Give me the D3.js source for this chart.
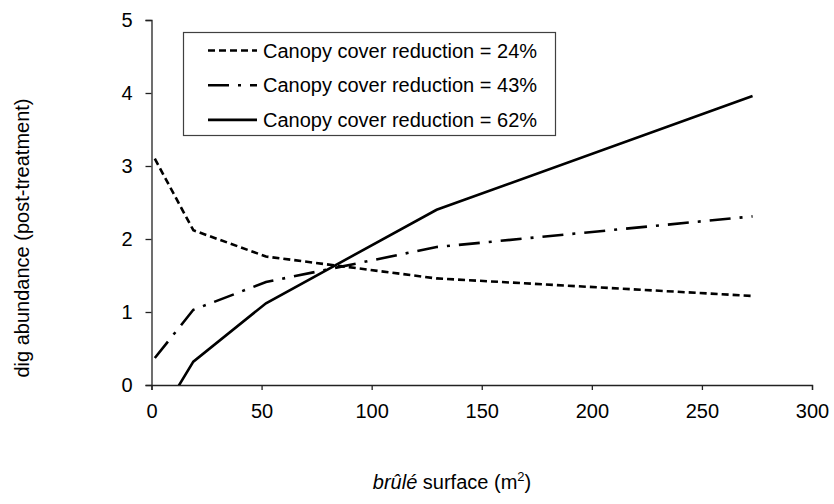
<!DOCTYPE html>
<html>
<head>
<meta charset="utf-8">
<script src="https://cdn.jsdelivr.net/npm/d3@7"></script>
<style>
  body { margin: 0; background: #fff; }
  text { font-family: "Liberation Sans", Arial, sans-serif; fill: #000; }
</style>
</head>
<body>
<svg id="chart" width="834" height="504"></svg>
<script>
const width = 834;
const height = 504;

// brûlé surface (m²) at which each curve is drawn
const surface = [1.5, 19, 52, 129.5, 273];

// dig abundance for each canopy cover reduction
const cover24 = [3.10, 2.12, 1.76, 1.46, 1.22];
const cover43 = [0.37, 1.03, 1.41, 1.89, 2.31];
const cover62 = [-0.55, 0.32, 1.12, 2.40, 3.96];

const seriesNames = [
    "Canopy cover reduction = 24%",
    "Canopy cover reduction = 43%",
    "Canopy cover reduction = 62%"
];

const xTicks = [0, 50, 100, 150, 200, 250, 300];
const yTicks = [0, 1, 2, 3, 4, 5];

const margin = { left: 151.5, right: 22, top: 20, bottom: 119 };

const x = d3.scaleLinear().domain([0, 300]).range([margin.left, width - margin.right]);
const y = d3.scaleLinear().domain([0, 5]).range([height - margin.bottom, margin.top]);

const svg = d3.select("#chart");

svg.append("defs")
    .append("clipPath")
    .attr("id", "plot-clip")
    .append("rect")
    .attr("x", x(0))
    .attr("y", y(5))
    .attr("width", x(300) - x(0))
    .attr("height", y(0) - y(5));

// dash styles: short dashes, long dash-dot, solid
const dashes = ["7,4", "21,9,3,9", null];

const series = [cover24, cover43, cover62].map((values, i) => ({
    name: seriesNames[i],
    dash: dashes[i],
    points: surface.map((s, j) => ({ x: s, y: values[j] }))
}));

const line = d3.line()
    .x(d => x(d.x))
    .y(d => y(d.y));

// axes
const xAxis = svg.append("g")
    .attr("transform", `translate(0,${y(0)})`)
    .call(d3.axisBottom(x).tickValues(xTicks).tickSize(5).tickPadding(14));

const yAxis = svg.append("g")
    .attr("transform", `translate(${x(0)},0)`)
    .call(d3.axisLeft(y).tickValues(yTicks).tickFormat(d3.format("d")).tickSize(6).tickPadding(13));

[xAxis, yAxis].forEach(ax => {
    ax.select(".domain").attr("stroke", "#222").attr("stroke-width", 1.3);
    ax.selectAll(".tick line").attr("stroke", "#222").attr("stroke-width", 1.3);
    ax.selectAll(".tick text")
        .style("font-family", "'Liberation Sans', Arial, sans-serif")
        .style("font-size", "20px")
        .attr("fill", "#000");
});

// series lines
svg.append("g")
    .attr("clip-path", "url(#plot-clip)")
    .selectAll("path")
    .data(series)
    .join("path")
    .attr("d", d => line(d.points))
    .attr("fill", "none")
    .attr("stroke", "#000")
    .attr("stroke-width", 2.6)
    .attr("stroke-dasharray", d => d.dash);

// legend
const legend = svg.append("g");

legend.append("rect")
    .attr("x", 183.5)
    .attr("y", 32.5)
    .attr("width", 372)
    .attr("height", 103)
    .attr("fill", "#fff")
    .attr("stroke", "#404040")
    .attr("stroke-width", 1.2);

const rows = legend.selectAll("g.row")
    .data(series)
    .join("g")
    .attr("class", "row")
    .attr("transform", (d, i) => `translate(0,${50.5 + i * 34.7})`);

rows.append("line")
    .attr("x1", 208)
    .attr("x2", 257)
    .attr("stroke", "#000")
    .attr("stroke-width", 2.6)
    .attr("stroke-dasharray", d => d.dash);

rows.append("text")
    .attr("x", 263)
    .attr("dy", "0.35em")
    .style("font-size", "20px")
    .text(d => d.name);

// axis titles
svg.append("text")
    .attr("transform", `translate(29,238) rotate(-90)`)
    .attr("text-anchor", "middle")
    .style("font-size", "20px")
    .text("dig abundance (post-treatment)");

const xTitle = svg.append("text")
    .attr("x", 452)
    .attr("y", 489)
    .attr("text-anchor", "middle")
    .style("font-size", "20px");

xTitle.append("tspan").style("font-style", "italic").text("brûlé");
xTitle.append("tspan").text(" surface (m");
xTitle.append("tspan").attr("dy", -8).style("font-size", "13px").text("2");
xTitle.append("tspan").attr("dy", 8).text(")");
</script>
</body>
</html>
